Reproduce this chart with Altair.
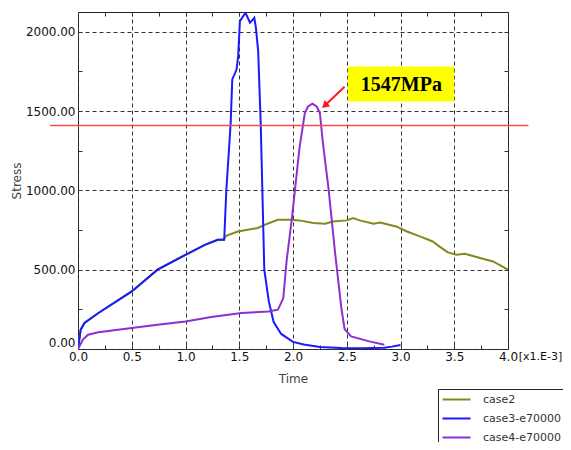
import altair as alt
import pandas as pd

# ---------------- data (time in 1e-3 s, stress in MPa)
series_names = ["case2", "case3-e70000", "case4-e70000"]
series_colors = ["#86861C", "#1A1AFF", "#8E2FD0"]

case2_time = [0, 0.025, 0.06, 0.19, 0.5, 0.74, 1.0, 1.18, 1.30, 1.353, 1.378, 1.487,
              1.673, 1.735, 1.859, 1.98, 2.06, 2.19, 2.30, 2.37, 2.50, 2.56, 2.62,
              2.75, 2.81, 2.96, 3.06, 3.18, 3.30, 3.36, 3.44, 3.52, 3.60, 3.74,
              3.86, 3.92, 4.0]
case2_stress = [0, 122, 164, 227, 363, 500, 594, 657, 689, 689, 714, 741,
                763, 783, 815, 815, 811, 794, 790, 804, 811, 826, 811,
                790, 798, 773, 741, 710, 678, 647, 609, 594, 601, 574,
                552, 531, 500]

case3_time = [0, 0.025, 0.06, 0.19, 0.5, 0.74, 1.0, 1.18, 1.30, 1.36, 1.38, 1.42,
              1.435, 1.475, 1.49, 1.506, 1.558, 1.60, 1.64, 1.655, 1.676, 1.70,
              1.733, 1.775, 1.82, 1.89, 2.0, 2.1, 2.25, 2.45, 2.65, 2.85, 2.92, 3.0]
case3_stress = [0, 122, 164, 227, 363, 500, 594, 657, 689, 689, 1004, 1420,
                1700, 1762, 1847, 2067, 2120, 2057, 2088, 2025, 1878, 1416,
                500, 300, 170, 95, 45, 28, 13, 6, 5, 8, 15, 25]

case4_time = [0, 0.046, 0.093, 0.19, 0.5, 0.74, 1.0, 1.24, 1.52, 1.77, 1.86, 1.91,
              1.94, 1.99, 2.02, 2.06, 2.11, 2.14, 2.18, 2.22, 2.25, 2.28, 2.33,
              2.39, 2.45, 2.48, 2.54, 2.71, 2.85]
case4_stress = [0, 59, 90, 105, 132, 153, 174, 202, 227, 237, 248, 321,
                552, 826, 1015, 1267, 1488, 1529, 1547, 1529, 1488, 1288, 1015,
                615, 258, 125, 79, 48, 27]

threshold = 1410
peak_label = "1547MPa"
x_unit_label = "[x1.E-3]"

x_ticks = [0, 0.5, 1.0, 1.5, 2.0, 2.5, 3.0, 3.5, 4.0]
y_ticks = [0, 500, 1000, 1500, 2000]
x_minor = [0.25 * i for i in range(1, 16)]
y_minor = [250 * i for i in range(1, 9)]

rows = []
for name, ts, ss in zip(series_names,
                        [case2_time, case3_time, case4_time],
                        [case2_stress, case3_stress, case4_stress]):
    for t, s in zip(ts, ss):
        rows.append({"series": name, "time": t, "stress": s})
df = pd.DataFrame(rows)
one = pd.DataFrame({"k": [0]})

FONT = "DejaVu Sans"
xs = alt.Scale(domain=[0, 4], nice=False, zero=False)
ys = alt.Scale(domain=[0, 2125], nice=False, zero=False)

main_x_axis = alt.Axis(values=x_ticks, format=".1f", grid=True, gridDash=[4, 3],
                       gridColor="#333333", gridWidth=1, ticks=False, domain=False,
                       labelFont=FONT, labelFontSize=12, labelColor="#111111",
                       labelPadding=2, labelFlush=False, title="Time",
                       titleFont=FONT, titleFontSize=12, titleFontWeight="normal",
                       titleColor="#444444", titlePadding=11, orient="bottom")
main_y_axis = alt.Axis(values=y_ticks, format=".2f", grid=True, gridDash=[4, 3],
                       gridColor="#333333", gridWidth=1, ticks=False, domain=False,
                       labelFont=FONT, labelFontSize=12, labelColor="#111111",
                       labelPadding=3, labelFlush=True, title="Stress",
                       titleFont=FONT, titleFontSize=12, titleFontWeight="normal",
                       titleColor="#444444", titlePadding=2, orient="left")


def tick_axis(orient, vals):
    return alt.Axis(orient=orient, values=vals, labels=False, domain=False, grid=False,
                    ticks=True, tickSize=4, tickColor="#333333", offset=-4, title=None)


lines = alt.Chart(df).mark_line(strokeWidth=2, clip=True).encode(
    x=alt.X("time:Q", scale=xs, axis=main_x_axis),
    y=alt.Y("stress:Q", scale=ys, axis=main_y_axis),
    color=alt.Color("series:N",
                    scale=alt.Scale(domain=series_names, range=series_colors),
                    legend=alt.Legend(orient="none", legendX=360, legendY=377,
                                      title=None, padding=5, strokeColor="#222222",
                                      fillColor="white", symbolType="M-7,0H7",
                                      symbolSize=16, symbolStrokeWidth=2,
                                      symbolOffset=8, labelOffset=21, rowPadding=7,
                                      labelFont=FONT, labelFontSize=11,
                                      labelColor="#333333")),
)

redline = alt.Chart(one).mark_rule(color="#FF4A4A", strokeWidth=1.5, clip=False).encode(
    x=alt.X(datum=-0.26, scale=xs, axis=tick_axis("top", x_minor)),
    x2=alt.X2(datum=4.19),
    y=alt.Y(datum=threshold, scale=ys, axis=tick_axis("right", y_minor)),
)

arrow = alt.Chart(one).mark_rule(color="#FF1A1A", strokeWidth=2).encode(
    x=alt.X(datum=2.48, scale=xs, axis=tick_axis("bottom", x_minor)),
    y=alt.Y(datum=1654, scale=ys, axis=tick_axis("left", y_minor)),
    x2=alt.X2(datum=2.306),
    y2=alt.Y2(datum=1542),
)

head = alt.Chart(one).mark_point(shape="triangle-up", filled=True, size=70, angle=227,
                                 color="#FF1A1A", opacity=1).encode(
    x=alt.X(datum=2.296, scale=xs, axis=None),
    y=alt.Y(datum=1535, scale=ys, axis=None),
)

box = alt.Chart(one).mark_rect(fill="#FFFF00").encode(
    x=alt.X(datum=2.51, scale=xs, axis=None),
    x2=alt.X2(datum=3.50),
    y=alt.Y(datum=1561, scale=ys, axis=None),
    y2=alt.Y2(datum=1782),
)

box_text = alt.Chart(one).mark_text(font="Liberation Serif", fontWeight="bold",
                                    fontSize=20, color="black", align="center",
                                    baseline="middle").encode(
    x=alt.X(datum=3.008, scale=xs, axis=None),
    y=alt.Y(datum=1662, scale=ys, axis=None),
    text=alt.value(peak_label),
)

unit_text = alt.Chart(one).mark_text(font=FONT, fontSize=11, color="#111111",
                                     align="left", baseline="middle", clip=False).encode(
    x=alt.X(datum=4.10, scale=xs, axis=None),
    y=alt.Y(datum=-48, scale=ys, axis=None),
    text=alt.value(x_unit_label),
)

chart = alt.layer(lines, redline, arrow, head, box, box_text, unit_text).resolve_axis(
    x="independent", y="independent"
).properties(
    width=430, height=337,
    autosize=alt.AutoSizeParams(type="none"),
    padding={"left": 70, "top": 4, "right": 55, "bottom": 93},
).configure_view(stroke="#222222", strokeWidth=1)

chart.save("out.html", embed_options={"renderer": "svg", "actions": False})
